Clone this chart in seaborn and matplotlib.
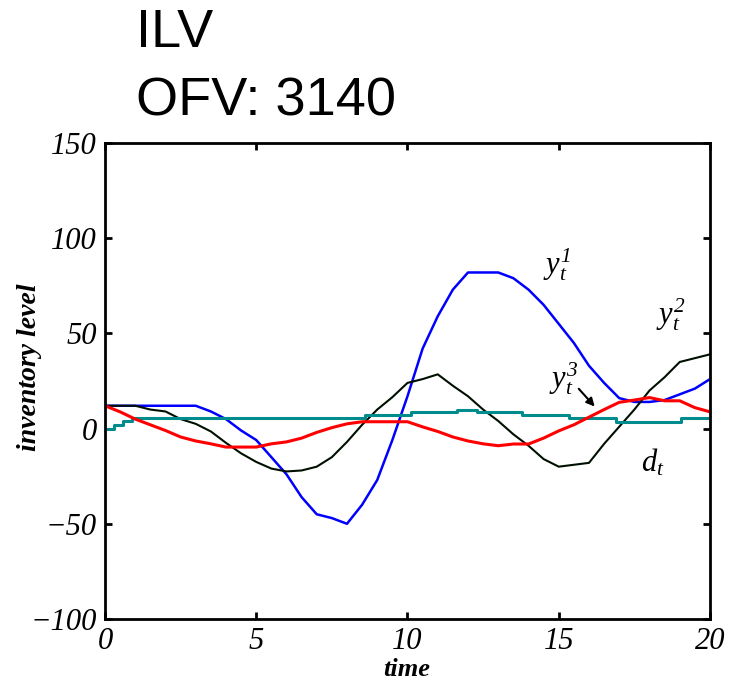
import numpy as np
import pandas as pd
import matplotlib
matplotlib.use("Agg")
import matplotlib.pyplot as plt
import seaborn as sns

time = np.arange(0, 20.5, 0.5)

y1 = [12, 12, 12, 12, 12, 12, 12, 9, 5, -1, -6, -15, -24, -36, -45, -47, -50, -40, -27, -6,
      17, 42, 59, 73, 82, 82, 82, 79, 73, 65, 55, 45, 33, 24, 16, 14, 14, 15, 18, 21, 26]
y2 = [12, 12, 12, 10, 9, 5, 2.5, -1.5, -7.5, -13, -17.5, -21, -22.5, -22, -20, -15, -7, 2, 10, 16.5,
      24, 26, 28.5, 22.5, 17, 10, 4, -3, -9, -16, -20, -19, -18, -8, 1, 10, 20, 27, 35, 37, 39]
d = [12, 8.8, 5, 2, -1, -4.4, -6.5, -8, -9.7, -9.7, -9.7, -8, -7, -5, -2, 0.5, 2.5, 3.6, 3.6, 3.6,
     3.6, 0.9, -1.5, -4.4, -6.5, -8, -9, -8.1, -8.1, -5, -1.2, 2, 6, 10, 13.8, 15, 16.3, 14.6, 14.6, 11, 8.8]

# y3 is piecewise constant, given at its change points
t_y3 = [0, 0.3, 0.6, 0.9, 8.6, 10.1, 11.65, 12.3, 13.8, 15.35, 16.9, 19.05, 20]
y3 = [0, 2, 4, 5.6, 7, 8.8, 10, 8.8, 7, 5.6, 3.6, 5.6, 5.6]

xticks = [0, 5, 10, 15, 20]
yticks = [-100, -50, 0, 50, 100, 150]

sns.set_style("ticks")
plt.rcParams["font.family"] = ["Liberation Serif", "DejaVu Serif"]
plt.rcParams["mathtext.fontset"] = "custom"
plt.rcParams["mathtext.it"] = "Liberation Serif:italic"
plt.rcParams["mathtext.rm"] = "Liberation Serif:italic"
for k in ["text.color", "axes.labelcolor", "xtick.color", "ytick.color"]:
    plt.rcParams[k] = "black"

fig = plt.figure(figsize=(7.3, 6.82), dpi=100)
ax = fig.add_axes([0.1438, 0.0924, 0.8288, 0.6979])

df = pd.DataFrame({"t": time, "y1": y1, "y2": y2, "d": d})
sns.lineplot(data=df, x="t", y="y1", ax=ax, color="#0000ff", lw=1.8)
sns.lineplot(data=df, x="t", y="y2", ax=ax, color="#001000", lw=1.5)
sns.lineplot(x=t_y3, y=y3, ax=ax, color="#008c8c", lw=2.2, drawstyle="steps-post")
sns.lineplot(data=df, x="t", y="d", ax=ax, color="#ff0000", lw=2.2)

ax.set_xlim(0, 20)
ax.set_ylim(-100, 150)
ax.set_xticks(xticks)
ax.set_yticks(yticks)
for s in ax.spines.values():
    s.set_visible(True)
    s.set_linewidth(2)
    s.set_color("black")
ax.tick_params(direction="in", length=5, width=2, top=True, right=True,
               labelsize=22, pad=6)
for lab in ax.get_xticklabels() + ax.get_yticklabels():
    lab.set_fontstyle("italic")

ax.set_xlabel("time", fontsize=19, fontstyle="italic", fontweight="bold", va="top")
ax.set_ylabel("inventory level", fontsize=20, fontstyle="italic", fontweight="bold", va="center")
ax.xaxis.set_label_coords(0.499, -0.083)
ax.yaxis.set_label_coords(-0.124, 0.528)

# curve labels
ax.text(14.95, 86, r"$y_t^1$", fontsize=22, ha="center", va="center")
ax.text(18.7, 60, r"$y_t^2$", fontsize=22, ha="center", va="center")
ax.text(15.15, 26, r"$y_t^3$", fontsize=22, ha="center", va="center")
ax.text(18.1, -18, r"$d_t$", fontsize=22, ha="center", va="center")
ax.annotate("", xy=(16.25, 10.5), xytext=(15.6, 22),
            arrowprops=dict(arrowstyle="-|>", color="black", lw=1.5, mutation_scale=12))

fig.text(136 / 730, 1 - 47 / 682, "ILV", fontsize=39, family="Liberation Sans",
         ha="left", va="baseline")
fig.text(136 / 730, 1 - 115 / 682, "OFV: 3140", fontsize=39, family="Liberation Sans",
         ha="left", va="baseline")

fig.savefig("out.png", dpi=100)
